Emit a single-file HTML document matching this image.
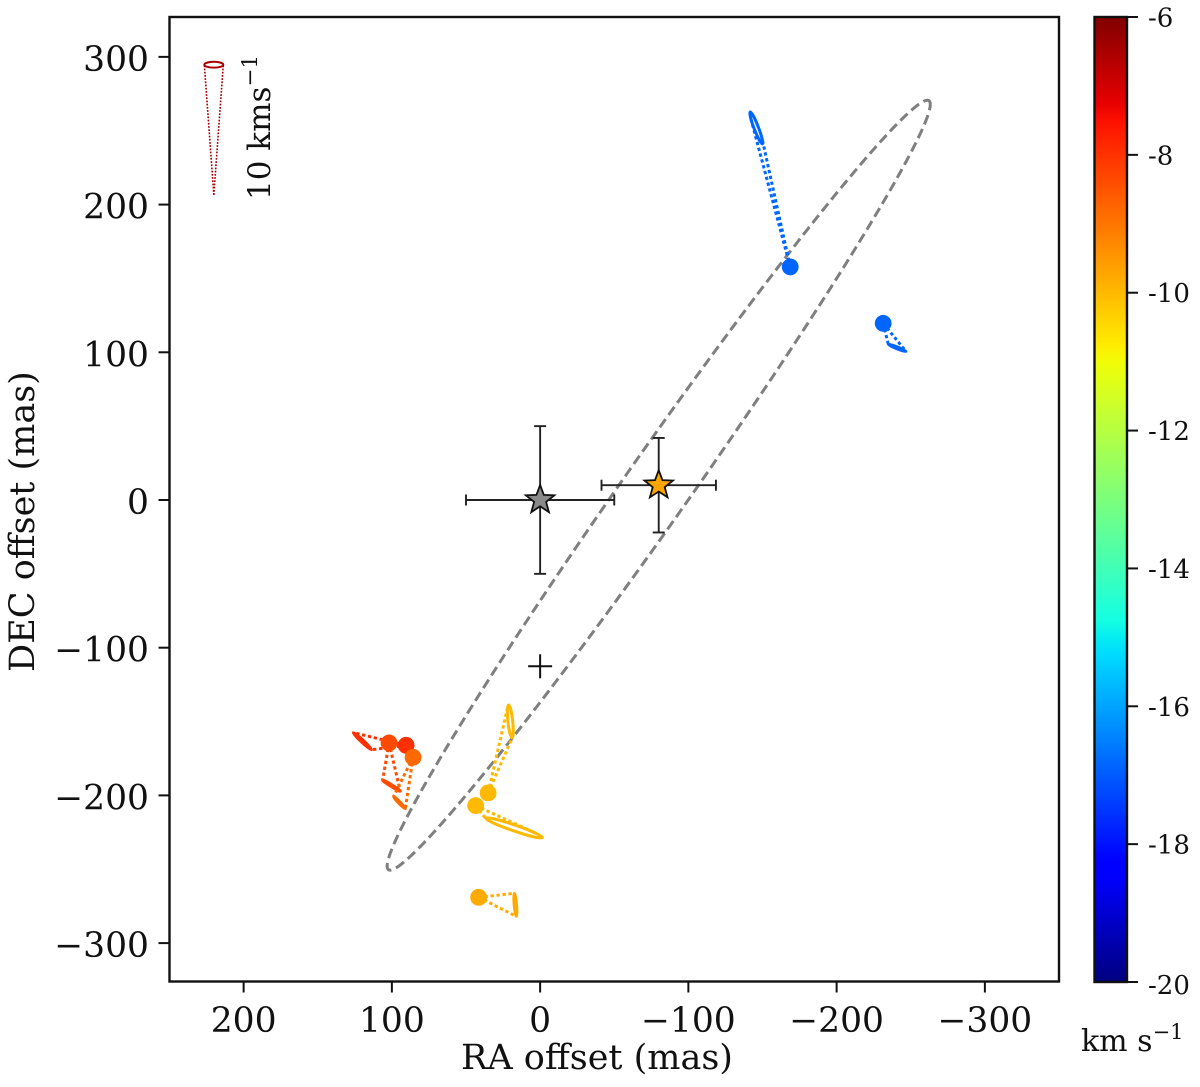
<!DOCTYPE html>
<html>
<head>
<meta charset="utf-8">
<title>Maser proper motions</title>
<style>
  html, body { margin: 0; padding: 0; background: #fff; }
  svg { display: block; }
  text { font-family: "DejaVu Serif", "Liberation Serif", serif; fill: #111; }
</style>
</head>
<body>
<svg id="chart" xmlns="http://www.w3.org/2000/svg" width="1200" height="1087" viewBox="0 0 1200 1087">
  <text x="597" y="1069" font-size="35" text-anchor="middle">RA offset (mas)</text>
  <text transform="translate(34,521.5) rotate(-90)" font-size="35" text-anchor="middle">DEC offset (mas)</text>
  <text transform="translate(270,200) rotate(-90)" font-size="31">10 kms<tspan font-size="21.5" dy="-13">−1</tspan></text>
  <text x="1081" y="1051" font-size="30">km s<tspan font-size="21" dy="-12">−1</tspan></text>
</svg>
<script>
// Axis tick values
var xTicks = [200, 100, 0, -100, -200, -300];
var yTicks = [300, 200, 100, 0, -100, -200, -300];
var cbarTicks = [-6, -8, -10, -12, -14, -16, -18, -20];

// Maser spots: offsets in mas, velocity in km/s
var spotRA = [-168.7, -231.4, 90.4, 101.9, 85.7, 35.1, 43.5, 41.5];
var spotDEC = [157.8, 119.6, -166.1, -164.5, -174.2, -198.3, -206.9, -269];
var spotVel = [-16.85, -16.85, -7.97, -8.35, -8.83, -10, -10, -9.78];

// Projected motion ellipses at the far end of each cone
var motionRA = [-145.8, -240.8, 119.9, 100.3, 94.9, 20.1, 17.6, 16.7];
var motionDEC = [251.9, 103, -163.3, -193.4, -204.9, -149.9, -222, -274.1];
var motionMajor = [11.5, 6.4, 8.4, 7, 5.7, 11.1, 20.3, 7.8];
var motionMinor = [1.5, 0.6, 0.8, 0.6, 0.6, 1.6, 2, 0.8];
var motionTilt = [69, 22, 43, 32, 46, 84, 19, 85];

// Scale cone
var scaleTipRA = 220.1;
var scaleTipDEC = 206.6;
var scaleRA = 220.1;
var scaleDEC = 294.7;
var scaleMajor = 6.4;
var scaleMinor = 2;
var scaleVel = -6.5;

// Fitted disc ellipse
var discRA = -80;
var discDEC = 10;
var discMajor = 317;
var discMinor = 22;
var discTilt = -54.9;

// Reference stars with errors, and the plus marker
var starRA = [0, -80];
var starDEC = [0, 10];
var starErrRA = [50, 38.6];
var starErrDEC = [50, 32];
var starColor = ['#8a8a8a', '#ffa500'];
var plusRA = 0;
var plusDEC = -112.6;

var svg = document.getElementById('chart');
var NS = 'http://www.w3.org/2000/svg';
var L = 169.5, R = 1059, T = 17, B = 981.5;
var xMax = 250, xMin = -350, yMax = 327, yMin = -326;
var CBL = 1094.5, CBR = 1127, cbTop = 17, cbBot = 982;

function X(v) { return L + (xMax - v) / (xMax - xMin) * (R - L); }
function Y(v) { return T + (yMax - v) / (yMax - yMin) * (B - T); }
function CB(v) { return cbTop + (-6 - v) / 14 * (cbBot - cbTop); }
function unitX() { return (R - L) / (xMax - xMin); }

function add(tag, attrs, parent) {
  var el = document.createElementNS(NS, tag);
  for (var k in attrs) el.setAttribute(k, attrs[k]);
  (parent || svg).appendChild(el);
  return el;
}
function segInterp(t, pts) {
  if (t <= pts[0][0]) return pts[0][1];
  for (var i = 1; i < pts.length; i++) {
    if (t <= pts[i][0]) {
      var a = pts[i - 1], b = pts[i];
      return a[1] + (b[1] - a[1]) * (t - a[0]) / (b[0] - a[0]);
    }
  }
  return pts[pts.length - 1][1];
}
function jet(v) {
  var t = (v + 20) / 14;
  var r = segInterp(t, [[0, 0], [0.35, 0], [0.66, 1], [0.89, 1], [1, 0.5]]);
  var g = segInterp(t, [[0, 0], [0.125, 0], [0.375, 1], [0.64, 1], [0.91, 0], [1, 0]]);
  var b = segInterp(t, [[0, 0.5], [0.11, 1], [0.34, 1], [0.65, 0], [1, 0]]);
  return 'rgb(' + Math.round(r * 255) + ',' + Math.round(g * 255) + ',' + Math.round(b * 255) + ')';
}
function starPoints(cx, cy, rad) {
  var p = [];
  for (var i = 0; i < 10; i++) {
    var r = i % 2 ? rad * 0.42 : rad;
    var a = -Math.PI / 2 + i * Math.PI / 5;
    p.push((cx + r * Math.cos(a)).toFixed(2) + ',' + (cy + r * Math.sin(a)).toFixed(2));
  }
  return p.join(' ');
}
function tangentPoints(px, py, cx, cy, a, b, tiltDeg) {
  var th = tiltDeg * Math.PI / 180, c = Math.cos(th), s = Math.sin(th);
  var dx = px - cx, dy = py - cy;
  var u = (dx * c + dy * s) / a, w = (-dx * s + dy * c) / b;
  var d = Math.sqrt(u * u + w * w), phi = Math.atan2(w, u), off = Math.acos(1 / d);
  return [phi - off, phi + off].map(function (ang) {
    var eu = a * Math.cos(ang), ew = b * Math.sin(ang);
    return [cx + eu * c - ew * s, cy + eu * s + ew * c];
  });
}
function drawCone(group, px, py, cx, cy, a, b, tilt, color, coneW, rimW) {
  var tp = tangentPoints(px, py, cx, cy, a, b, tilt);
  for (var i = 0; i < 2; i++) {
    var side = add('line', { x1: px, y1: py, x2: tp[i][0], y2: tp[i][1], stroke: color, 'stroke-width': coneW, 'stroke-dasharray': (coneW * 1.1) + ' ' + (coneW * 0.9) }, group);
    
    
  }
  var rim = add('ellipse', { cx: cx, cy: cy, rx: a, ry: b, fill: 'none', stroke: color, 'stroke-width': rimW, transform: 'rotate(' + tilt + ' ' + cx + ' ' + cy + ')' }, group);
  
  
}

// Disc ellipse
var th = discTilt * Math.PI / 180;
var discPath = [];
for (var i = 0; i <= 360; i++) {
  var ph = i * Math.PI / 180;
  var eu = discMajor * unitX() * Math.cos(ph), ew = discMinor * unitX() * Math.sin(ph);
  discPath.push((X(discRA) + eu * Math.cos(th) - ew * Math.sin(th)).toFixed(2) + ',' + (Y(discDEC) + eu * Math.sin(th) + ew * Math.cos(th)).toFixed(2));
}
var disc = add('polygon', { points: discPath.join(' '), fill: 'none', stroke: '#7f7f7f', 'stroke-width': 3, 'stroke-dasharray': '10 5' });



// Plus marker
var plusGroup = add('g', { stroke: '#111', 'stroke-width': 2 });


add('line', { x1: X(plusRA) - 12, x2: X(plusRA) + 12, y1: Y(plusDEC), y2: Y(plusDEC) }, plusGroup);
add('line', { x1: X(plusRA), x2: X(plusRA), y1: Y(plusDEC) - 12, y2: Y(plusDEC) + 12 }, plusGroup);

// Stars with error bars
starRA.forEach(function (ra, i) {
  var g = add('g', {});
  
  
  var cx = X(ra), cy = Y(starDEC[i]);
  var x0 = X(ra + starErrRA[i]), x1 = X(ra - starErrRA[i]);
  var y0 = Y(starDEC[i] + starErrDEC[i]), y1 = Y(starDEC[i] - starErrDEC[i]);
  [[x0, cy, x1, cy], [cx, y0, cx, y1], [x0, cy - 5.5, x0, cy + 5.5], [x1, cy - 5.5, x1, cy + 5.5], [cx - 6, y0, cx + 6, y0], [cx - 6, y1, cx + 6, y1]].forEach(function (s) {
    var ln = add('line', { x1: s[0], y1: s[1], x2: s[2], y2: s[3], stroke: '#222', 'stroke-width': 1.9 }, g);
    
    
  });
  var star = add('polygon', { points: starPoints(cx, cy, 15), fill: starColor[i], stroke: '#111', 'stroke-width': 1.8, 'stroke-linejoin': 'miter' }, g);
  
  
});

// Maser cones
spotRA.forEach(function (ra, i) {
  var g = add('g', {});
  
  
  var u = unitX();
  drawCone(g, X(ra), Y(spotDEC[i]), X(motionRA[i]), Y(motionDEC[i]), motionMajor[i] * u, motionMinor[i] * u, motionTilt[i], jet(spotVel[i]), 3, 3);
});

// Maser spots on top of cones
spotRA.forEach(function (ra, i) {
  var dot = add('circle', { cx: X(ra), cy: Y(spotDEC[i]), r: 8.4, fill: jet(spotVel[i]) });
  
  
});

// Scale cone
var scaleGroup = add('g', {});


drawCone(scaleGroup, X(scaleTipRA), Y(scaleTipDEC), X(scaleRA), Y(scaleDEC), scaleMajor * unitX(), scaleMinor * unitX(), 0, '#a80000', 1.6, 2);

// Axes frame
var frame = add('rect', { x: L, y: T, width: R - L, height: B - T, fill: 'none', stroke: '#111', 'stroke-width': 2.4 });



function fmt(v) { return v < 0 ? '\u2212' + Math.abs(v) : String(v); }

xTicks.forEach(function (v) {
  var tick = add('line', { x1: X(v), x2: X(v), y1: B, y2: B + 11, stroke: '#111', 'stroke-width': 2 });
  
  
  var lab = add('text', { x: X(v), y: 1032, 'font-size': 34.5, 'text-anchor': 'middle' });
  
  
  lab.textContent = fmt(v);
});
yTicks.forEach(function (v) {
  var tick = add('line', { x1: L - 11, x2: L, y1: Y(v), y2: Y(v), stroke: '#111', 'stroke-width': 2 });
  
  
  var lab = add('text', { x: 149, y: Y(v) + 14, 'font-size': 34.5, 'text-anchor': 'end' });
  
  
  lab.textContent = fmt(v);
});

// Colour bar
var defs = add('defs', {});
var grad = add('linearGradient', { id: 'jetGrad', x1: 0, y1: 0, x2: 0, y2: 1 }, defs);
for (var s = 0; s <= 56; s++) {
  add('stop', { offset: (s / 56).toFixed(4), 'stop-color': jet(-6 - s * 14 / 56) }, grad);
}
var bar = add('rect', { x: CBL, y: cbTop, width: CBR - CBL, height: cbBot - cbTop, fill: 'url(#jetGrad)', stroke: '#111', 'stroke-width': 2.4 });


cbarTicks.forEach(function (v) {
  var tick = add('line', { x1: CBR, x2: CBR + 11, y1: CB(v), y2: CB(v), stroke: '#111', 'stroke-width': 2 });
  
  
  var lab = add('text', { x: 1148, y: CB(v) + (v === -20 ? 12 : 9.5), 'font-size': 26 });
  
  
  lab.textContent = String(v);
});
</script>
</body>
</html>
